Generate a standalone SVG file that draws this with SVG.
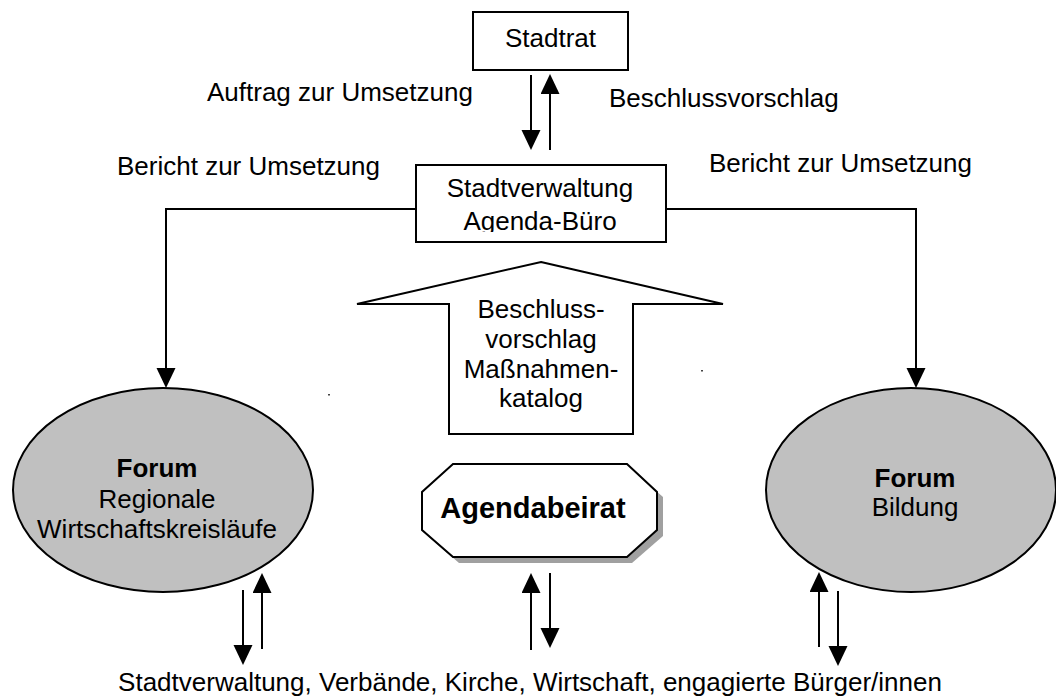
<svg xmlns="http://www.w3.org/2000/svg" width="1056" height="699" viewBox="0 0 1056 699">
<style>
  text { font-family: "Liberation Sans", Arial, sans-serif; font-size: 26px; fill: #000; }
  .c { text-anchor: middle; }
  .b { font-weight: bold; }
  .box { fill: #fff; stroke: #000; stroke-width: 2; }
  .forum { fill: #c0c0c0; stroke: #000; stroke-width: 2; }
  .ln { fill: none; stroke: #000; stroke-width: 2; marker-end: url(#ah); }
</style>
<defs>
  <marker id="ah" markerUnits="userSpaceOnUse" markerWidth="20" markerHeight="20" viewBox="0 0 20 20" refX="12" refY="9.5" orient="auto">
    <path d="M0,0 L20,9.5 L0,19 Z" fill="#000"/>
  </marker>
  <clipPath id="clipSV"><rect x="417" y="166" width="248" height="66"/></clipPath>
</defs>
<rect width="1056" height="699" fill="#fff"/>

<g id="stadtrat">
  <rect class="box" x="473" y="12" width="155" height="58"/>
  <text class="c" x="550.5" y="47">Stadtrat</text>
</g>

<g id="stadtverwaltung">
  <rect class="box" x="416" y="165" width="250" height="77"/>
  <g clip-path="url(#clipSV)">
    <text class="c" x="540" y="197">Stadtverwaltung</text>
    <text class="c" x="540" y="230">Agenda-Büro</text>
  </g>
</g>

<g id="massnahmen">
  <polygon class="box" points="541,262 723,304 633,304 633,434 449,434 449,304 357,304"/>
  <text class="c" x="541" y="318">Beschluss-</text>
  <text class="c" x="541" y="348">vorschlag</text>
  <text class="c" x="541" y="378">Maßnahmen-</text>
  <text class="c" x="541" y="407">katalog</text>
</g>

<g id="agendabeirat">
  <polygon points="459,470 632,470 663,497 663,536 632,563 459,563 428,536 428,497" fill="#a0a0a0"/>
  <polygon class="box" points="453,464 627,464 657,492 657,530 627,557 453,557 422,530 422,492"/>
  <text class="c b" x="533" y="518" style="font-size:29px">Agendabeirat</text>
</g>

<g id="forum-wirtschaft">
  <ellipse class="forum" cx="163" cy="490" rx="150" ry="102"/>
  <text class="c b" x="157" y="477">Forum</text>
  <text class="c" x="157" y="508">Regionale</text>
  <text class="c" x="157" y="538">Wirtschaftskreisläufe</text>
</g>

<g id="forum-bildung">
  <ellipse class="forum" cx="911" cy="490" rx="145" ry="102"/>
  <text class="c b" x="915" y="487">Forum</text>
  <text class="c" x="915" y="516">Bildung</text>
</g>

<g id="labels">
  <text x="207" y="101">Auftrag zur Umsetzung</text>
  <text x="609" y="107">Beschlussvorschlag</text>
  <text x="117" y="175">Bericht zur Umsetzung</text>
  <text x="709" y="172">Bericht zur Umsetzung</text>
  <text class="c" x="530" y="691">Stadtverwaltung, Verbände, Kirche, Wirtschaft, engagierte Bürger/innen</text>
</g>

<g id="connectors">
  <line class="ln" x1="531" y1="75" x2="531" y2="142"/>
  <line class="ln" x1="550" y1="150" x2="550" y2="82"/>
  <path class="ln" d="M416,209 H166 V380"/>
  <path class="ln" d="M666,209 H916 V380"/>
  <line class="ln" x1="243" y1="590" x2="243" y2="657"/>
  <line class="ln" x1="262" y1="649" x2="262" y2="581"/>
  <line class="ln" x1="531" y1="650" x2="531" y2="581"/>
  <line class="ln" x1="550" y1="573" x2="550" y2="640"/>
  <line class="ln" x1="819" y1="647" x2="819" y2="580"/>
  <line class="ln" x1="838" y1="591" x2="838" y2="658"/>
</g>

<g id="specks" fill="#444">
  <rect x="328" y="394" width="2" height="1.5"/>
  <rect x="701" y="370" width="2" height="1.5"/>
</g>
</svg>
